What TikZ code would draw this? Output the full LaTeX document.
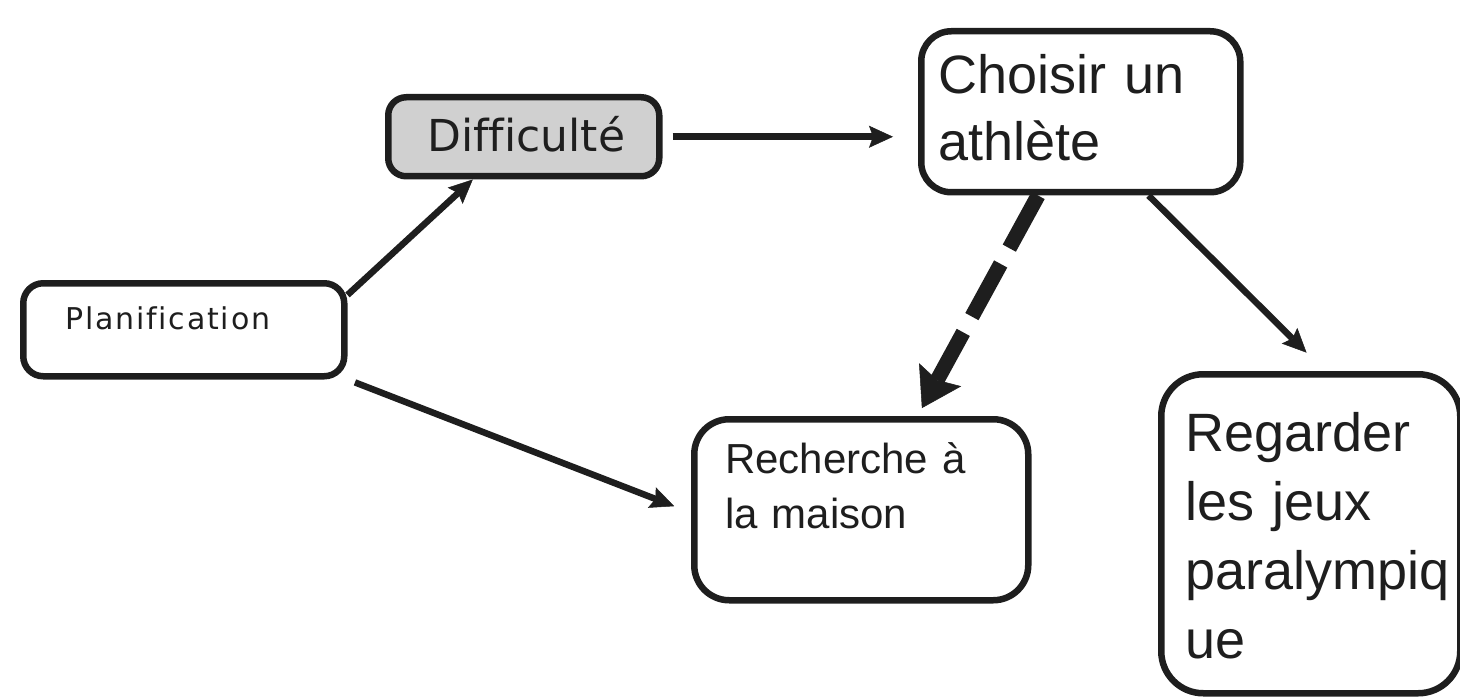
\documentclass[tikz,border=0pt]{standalone}
\usepackage{fontspec}
\setmainfont{Liberation Sans}
\newfontfamily\comicfont[Ligatures=NoCommon]{DejaVu Sans}
\newfontfamily\comicspaced[Ligatures=NoCommon,LetterSpace=6]{DejaVu Sans}
\usetikzlibrary{arrows.meta}
\definecolor{inkgray}{HTML}{1E1E1E}
\definecolor{boxgray}{HTML}{D0D0D0}

\begin{document}
\begin{tikzpicture}[x=1pt,y=1pt,yscale=-1,xscale=1,
  conceptbox/.style={draw=inkgray, line width=6.5pt, anchor=north west, inner ysep=0pt, align=left, text=inkgray},
  link/.style={draw=inkgray, line width=6.5pt, -{Stealth[length=24pt,width=22pt,inset=4pt,line width=0.5pt]}},
  weaklink/.style={draw=inkgray, line width=15pt, dash pattern=on 60pt off 18pt, -{Stealth[length=38pt,width=48pt,inset=6pt,line width=0.5pt]}}]
%set diagram to the size of the reference
\useasboundingbox (0,0) rectangle (1460,698);

%Shape: Rounded Rect [id:plan]
\node[conceptbox, rounded corners=20pt, inner xsep=42pt, text width=237pt, text height=46pt, text depth=47pt, font=\comicspaced\fontsize{30}{35}\selectfont] (plan) at (20,280) {Planification};
%Shape: Rounded Rect [id:diff]
\node[conceptbox, fill=boxgray, rounded corners=18pt, inner xsep=39pt, text width=193pt, text height=54pt, text depth=25pt, font=\comicfont\fontsize{44}{52}\selectfont] (diff) at (385,94) {Difficulté};
%Shape: Rounded Rect [id:choice]
\node[conceptbox, rounded corners=30pt, inner xsep=17pt, text width=285pt, text height=62pt, text depth=99pt, font=\fontsize{54}{67}\selectfont] (choice) at (918,28) {Choisir un\\athlète};
%Shape: Rounded Rect [id:home]
\node[conceptbox, rounded corners=35pt, inner xsep=31pt, text width=272pt, text height=54pt, text depth=127pt, font=\fontsize{42}{55}\selectfont] (home) at (691,416) {Recherche à\\la maison};
%Shape: Rounded Rect [id:games]
\node[conceptbox, rounded corners=42pt, inner xsep=24pt, text width=251pt, text height=77pt, text depth=242pt, font=\fontsize{54}{69}\selectfont] (games) at (1158,371) {Regarder\\les jeux\\paralympiq\\ue};

%Straight Lines [id:arrows]
\draw[link] (plan.12) -- (diff.220);
\draw[link, shorten <=10pt, shorten >=25pt] (diff.east) -- (diff.east -| choice.west);
\draw[weaklink, shorten >=9pt] (choice.243) -- (home.59);
\draw[link, shorten >=26pt] (choice.309) -- (games.85);
\draw[link, shorten <=8pt, shorten >=18pt] (plan.south east) -- (home.181);

\end{tikzpicture}
\end{document}
